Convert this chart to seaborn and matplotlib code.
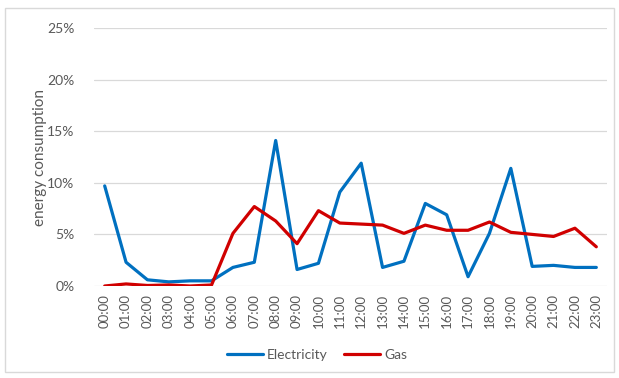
import matplotlib
matplotlib.use("Agg")
import matplotlib.pyplot as plt
import matplotlib.patches as mpatches
from matplotlib.ticker import FuncFormatter
import seaborn as sns
import pandas as pd

hours = [f"{h:02d}:00" for h in range(24)]
electricity = [9.7, 2.3, 0.6, 0.4, 0.5, 0.5, 1.8, 2.3, 14.1, 1.6, 2.2, 9.1,
               11.9, 1.8, 2.4, 8.0, 6.9, 0.9, 5.1, 11.4, 1.9, 2.0, 1.8, 1.8]
gas = [0.0, 0.2, 0.05, 0.1, 0.0, 0.1, 5.1, 7.7, 6.3, 4.1, 7.3, 6.1,
       6.0, 5.9, 5.1, 5.9, 5.4, 5.4, 6.2, 5.2, 5.0, 4.8, 5.6, 3.8]
series_names = ["Electricity", "Gas"]
colors = ["#0070C0", "#D00000"]

df = pd.concat([
    pd.DataFrame({"pos": range(24), "value": electricity, "series": series_names[0]}),
    pd.DataFrame({"pos": range(24), "value": gas, "series": series_names[1]}),
])

sns.set_theme(style="white")
plt.rcParams["font.family"] = ["Lato", "DejaVu Sans"]
text_color = "#595959"
grid_color = "#D9D9D9"

fig = plt.figure(figsize=(6.19, 3.78), dpi=100)
fig.patch.set_facecolor("white")

# outer chart frame
fig.add_artist(mpatches.Rectangle((5 / 619, 1 - 372 / 378), 609 / 619, 364 / 378,
                                  transform=fig.transFigure, fill=False,
                                  edgecolor=grid_color, linewidth=1.0))

ax = fig.add_axes([94 / 619, 1 - 286 / 378, 513 / 619, 258 / 378])
sns.lineplot(data=df, x="pos", y="value", hue="series", palette=colors,
             linewidth=2.3, ax=ax, legend=False, sort=False)

ax.set_xlim(-0.5, 23.5)
ax.set_ylim(0, 25)
ax.set_yticks([0, 5, 10, 15, 20, 25])
ax.yaxis.set_major_formatter(FuncFormatter(lambda v, _: f"{v:.0f}%"))
ax.set_xticks(range(24))
ax.set_xticklabels(hours, rotation=90)
ax.grid(axis="y", color=grid_color, linewidth=0.9)
ax.set_axisbelow(True)
for s in ax.spines.values():
    s.set_visible(False)
ax.tick_params(axis="y", length=0, pad=14, labelsize=10, labelcolor=text_color)
ax.tick_params(axis="x", length=0, pad=6, labelsize=9.5, labelcolor=text_color)
ax.set_xlabel("")
ax.set_ylabel("energy consumption", fontsize=11, color=text_color)
ax.yaxis.set_label_coords(-0.092, 0.5)

handles = [plt.Line2D([], [], color=c, linewidth=2.3) for c in colors]
fig.legend(handles, series_names, loc="center", bbox_to_anchor=(317 / 619, 1 - 355 / 378),
           ncol=2, frameon=False, fontsize=10, labelcolor=text_color,
           handlelength=2.6, handletextpad=0.3, columnspacing=1.2)

fig.savefig("out.png", dpi=100, facecolor="white")
